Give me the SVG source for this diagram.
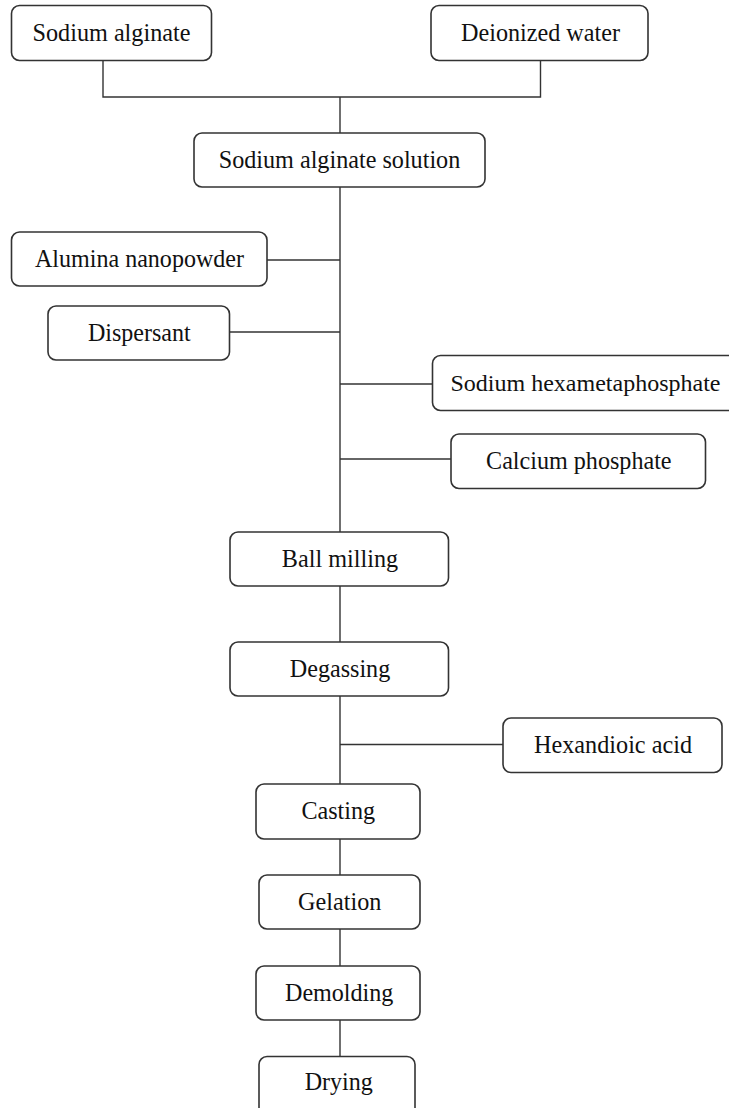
<svg xmlns="http://www.w3.org/2000/svg" width="729" height="1108" viewBox="0 0 729 1108">
<style>
.box{fill:#fff;stroke:#333;stroke-width:1.6}
.lbl{font-family:"Liberation Serif","Times New Roman",serif;font-size:26px;fill:#111;text-anchor:middle}
.conn{fill:none;stroke:#333;stroke-width:1.4}
</style>
<rect width="729" height="1108" fill="#fff"/>
<g id="connectors">
<path class="conn" d="M103 60.5 V97 H540.5 V60.5"/>
<path class="conn" d="M340 97 V133"/>
<path class="conn" d="M340 187 V532"/>
<path class="conn" d="M267 260 H340"/>
<path class="conn" d="M229.5 332 H340"/>
<path class="conn" d="M340 384 H432.5"/>
<path class="conn" d="M340 459 H451"/>
<path class="conn" d="M340 586 V642"/>
<path class="conn" d="M340 696 V784"/>
<path class="conn" d="M340 744.5 H503"/>
<path class="conn" d="M340 839 V875"/>
<path class="conn" d="M340 929 V966"/>
<path class="conn" d="M340 1020 V1056.5"/>
</g>
<g id="sodium-alginate"><rect class="box" x="11.5" y="5.5" width="200" height="55" rx="8"/><text class="lbl" x="111.5" y="40.5" textLength="158" lengthAdjust="spacingAndGlyphs">Sodium alginate</text></g>
<g id="deionized-water"><rect class="box" x="431" y="5.5" width="217" height="55" rx="8"/><text class="lbl" x="540.5" y="40.5" textLength="159" lengthAdjust="spacingAndGlyphs">Deionized water</text></g>
<g id="sodium-alginate-solution"><rect class="box" x="194" y="133" width="291" height="54" rx="8"/><text class="lbl" x="339.5" y="167.5" textLength="241.6" lengthAdjust="spacingAndGlyphs">Sodium alginate solution</text></g>
<g id="alumina-nanopowder"><rect class="box" x="11.5" y="232" width="255.5" height="54" rx="8"/><text class="lbl" x="139.5" y="266.5" textLength="209" lengthAdjust="spacingAndGlyphs">Alumina nanopowder</text></g>
<g id="dispersant"><rect class="box" x="48" y="306" width="181.5" height="54" rx="8"/><text class="lbl" x="139.3" y="340.5" textLength="102.8" lengthAdjust="spacingAndGlyphs">Dispersant</text></g>
<g id="sodium-hexametaphosphate"><path class="box" d="M729 355.5 H440.5 A8 8 0 0 0 432.5 363.5 V402.5 A8 8 0 0 0 440.5 410.5 H729"/><text class="lbl" x="585.5" y="390.5" style="font-size:24px">Sodium hexametaphosphate</text></g>
<g id="calcium-phosphate"><rect class="box" x="451" y="434" width="254.5" height="54.5" rx="8"/><text class="lbl" x="578.8" y="468.5" textLength="185.5" lengthAdjust="spacingAndGlyphs">Calcium phosphate</text></g>
<g id="ball-milling"><rect class="box" x="230" y="532" width="218.5" height="54" rx="8"/><text class="lbl" x="340" y="566.5" textLength="116.3" lengthAdjust="spacingAndGlyphs">Ball milling</text></g>
<g id="degassing"><rect class="box" x="230" y="642" width="218.5" height="54" rx="8"/><text class="lbl" x="340" y="676.5" textLength="100.5" lengthAdjust="spacingAndGlyphs">Degassing</text></g>
<g id="hexandioic-acid"><rect class="box" x="503" y="718" width="219" height="54.5" rx="8"/><text class="lbl" x="613" y="752.5" textLength="158" lengthAdjust="spacingAndGlyphs">Hexandioic acid</text></g>
<g id="casting"><rect class="box" x="256" y="784" width="164" height="55" rx="8"/><text class="lbl" x="338.3" y="819" textLength="73.8" lengthAdjust="spacingAndGlyphs">Casting</text></g>
<g id="gelation"><rect class="box" x="259" y="875" width="161" height="54" rx="8"/><text class="lbl" x="339.7" y="909.5" textLength="83.2" lengthAdjust="spacingAndGlyphs">Gelation</text></g>
<g id="demolding"><rect class="box" x="256" y="966" width="164" height="54" rx="8"/><text class="lbl" x="339.2" y="1000.5" textLength="108.4" lengthAdjust="spacingAndGlyphs">Demolding</text></g>
<g id="drying"><rect class="box" x="259" y="1056.5" width="156" height="60" rx="8"/><text class="lbl" x="338.8" y="1089.5" textLength="68.2" lengthAdjust="spacingAndGlyphs">Drying</text></g>
</svg>
